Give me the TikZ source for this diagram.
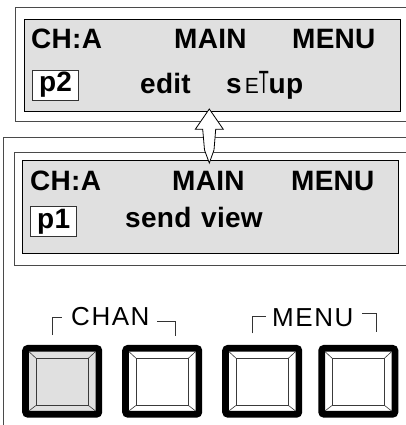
\documentclass[tikz,border=0pt]{standalone}
\usepackage{fontspec}
\usepackage{graphicx}
\usepackage{tikz}
\usetikzlibrary{positioning,calc}
\newfontfamily\lcdfont[LetterSpace=1.0]{Liberation Sans}
\newfontfamily\keyfont[LetterSpace=6.0]{Liberation Sans}
\definecolor{palLcd}{HTML}{E0E0E0}
\definecolor{palFrame}{HTML}{4A4A4A}
\definecolor{palBevel}{HTML}{3A3A3A}
\tikzset{
  lcdpanel/.style={draw=black, line width=0.9pt, fill=palLcd, inner sep=0pt},
  lcdtext/.style={font=\lcdfont\fontsize{28}{28}\selectfont\bfseries,
                  inner sep=0pt, anchor=base west},
  pagebox/.style={draw=black!80, line width=0.7pt, fill=white, minimum width=46pt,
                  minimum height=30pt, inner sep=0pt,
                  font=\lcdfont\fontsize{28}{28}\selectfont\bfseries},
  keylabel/.style={font=\keyfont\fontsize{26}{26}\selectfont, inner sep=0pt,
                   anchor=base west},
  framelines/.style={draw=palFrame, line width=0.8pt},
  bracketline/.style={line width=0.7pt, black!80},
  keybtn/.style={draw=black, line width=6.7pt, rounded corners=2.5pt, outer sep=0pt,
                 minimum width=73.3pt, minimum height=66pt, inner sep=0pt},
  keyface/.style={draw=palBevel, line width=0.8pt, outer sep=0pt,
                  minimum width=52.6pt, minimum height=47.4pt, inner sep=0pt},
  bevelline/.style={draw=palBevel, line width=0.6pt},
  swaparrow/.style={draw=black, line width=0.8pt, fill=white, line join=miter},
}

\begin{document}
\begin{tikzpicture}[x=1pt, y=-1pt]
\useasboundingbox (0,0) rectangle (406,425);
% Row baselines
\def\yTopHead{48.5}  \def\yTopRow{94}
\def\yBotHead{190}   \def\yBotRow{227.5}
\def\yKeys{381.3}

%% Frames
\draw[framelines] (406,7) -| (15.5,121) -- (406,121);
\draw[framelines] (406,137) -| (3.3,425);
\draw[framelines] (406,152) -| (14,265) -- (406,265);

%% Displays
\node[lcdpanel, minimum width=376.5pt, minimum height=92pt]   (lcdTop) at (212.25,65) {};
\node[lcdpanel, minimum width=375.3pt, minimum height=93.3pt] (lcdBot) at (210.35,206.65) {};

% Upper display text
\node[lcdtext] (topCh)   at (31,\yTopHead)  {CH:A};
\node[lcdtext] (topMain) at (174,\yTopHead) {MAIN};
\node[lcdtext] (topMenu) at (292,\yTopHead) {MENU};
\node[pagebox] (topPage) at (55.5,85) {p2};
\node[lcdtext] (topEdit) at (140,\yTopRow) {edit};
\node[lcdtext] (topSetup) at (226,\yTopRow)
  {s\hspace{3pt}\scalebox{0.75}[0.78]{\mdseries E}\scalebox{0.58}[1.15]{\mdseries T}up};

% Lower display text
\node[lcdtext] (botCh)   at (30,\yBotHead)  {CH:A};
\node[lcdtext] (botMain) at (172,\yBotHead) {MAIN};
\node[lcdtext] (botMenu) at (291,\yBotHead) {MENU};
\node[pagebox] (botPage) at (53.7,221.7) {p1};
\node[lcdtext] (botSend) at (125,\yBotRow) {send};
\node[lcdtext] (botView) at (201,\yBotRow) {view};

%% Swap arrow
\draw[swaparrow] (209.3,109) -- (223.3,129.3) -- (215.7,129.3) -- (214,150)
  -- (209.3,163) -- (204.5,150) -- (202.7,129.3) -- (195.3,129.3) -- cycle;

%% Key labels
\node[keylabel] (chanLabel) at (71,325) {CHAN};
\node[keylabel] (menuLabel) at (272,326) {MENU};
\draw[bracketline] (52.7,335) |- (62,317);
\draw[bracketline] (157,321) -| (175.5,336);
\draw[bracketline] (252.3,333.3) |- (266,316);
\draw[bracketline] (362,313) -| (376.7,332);

%% Keys
\foreach \kx/\kfill/\kname in {62.2/palLcd/chanA, 162.2/white/chanB,
                               262.2/white/menuA, 358.3/white/menuB} {
  \node[keybtn, fill=\kfill] (key\kname) at (\kx,\yKeys) {};
  \node[keyface, fill=\kfill] (face\kname) at (\kx,\yKeys+0.5) {};
  \draw[bevelline] (face\kname.north west) -- ($(key\kname.north west)+(3.35pt,-3.35pt)$);
  \draw[bevelline] (face\kname.north east) -- ($(key\kname.north east)+(-3.35pt,-3.35pt)$);
  \draw[bevelline] (face\kname.south west) -- ($(key\kname.south west)+(3.35pt,3.35pt)$);
  \draw[bevelline] (face\kname.south east) -- ($(key\kname.south east)+(-3.35pt,3.35pt)$);
}
\end{tikzpicture}
\end{document}
